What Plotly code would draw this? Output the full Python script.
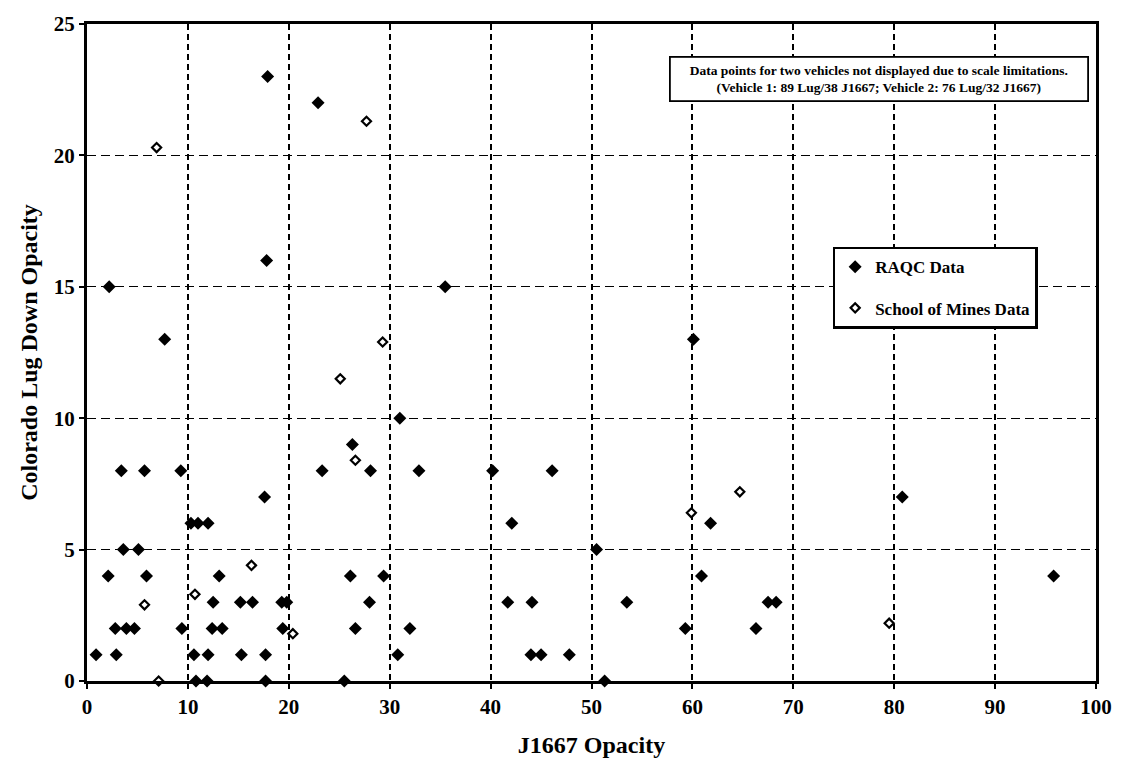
import plotly.graph_objects as go

# RAQC measurements: J1667 opacity (x) vs Colorado lug-down opacity (y)
raqc_x = [17.9, 22.9, 17.8, 2.2, 35.5, 7.7, 60.1, 31.0, 26.3,
          3.4, 5.7, 9.3, 23.3, 28.1, 32.9, 40.2, 46.1,
          17.6, 80.8,
          10.3, 11.0, 12.0, 42.1, 61.8,
          3.6, 5.1, 50.5,
          2.1, 5.9, 13.1, 26.1, 29.4, 60.9, 95.8,
          12.5, 15.2, 16.4, 19.3, 19.8, 28.0, 41.7, 44.1, 53.5, 67.5, 68.3,
          2.8, 3.9, 4.7, 9.4, 12.4, 13.4, 19.4, 26.6, 32.0, 59.3, 66.3,
          0.9, 2.9, 10.6, 12.0, 15.3, 17.7, 30.8, 44.0, 45.0, 47.8,
          10.8, 11.9, 17.7, 25.5, 51.3]
raqc_y = [23, 22, 16, 15, 15, 13, 13, 10, 9,
          8, 8, 8, 8, 8, 8, 8, 8,
          7, 7,
          6, 6, 6, 6, 6,
          5, 5, 5,
          4, 4, 4, 4, 4, 4, 4,
          3, 3, 3, 3, 3, 3, 3, 3, 3, 3, 3,
          2, 2, 2, 2, 2, 2, 2, 2, 2, 2, 2,
          1, 1, 1, 1, 1, 1, 1, 1, 1, 1,
          0, 0, 0, 0, 0]

# School of Mines measurements
mines_x = [6.9, 27.7, 29.3, 25.1, 26.6, 16.3, 10.7, 5.7, 20.4, 7.1, 59.9, 64.7, 79.5]
mines_y = [20.3, 21.3, 12.9, 11.5, 8.4, 4.4, 3.3, 2.9, 1.8, 0.0, 6.4, 7.2, 2.2]

x_ticks = [0, 10, 20, 30, 40, 50, 60, 70, 80, 90, 100]
y_ticks = [0, 5, 10, 15, 20, 25]

SERIF = "Liberation Serif"

fig = go.Figure()
fig.add_trace(go.Scatter(
    x=raqc_x, y=raqc_y, mode="markers", name="RAQC Data",
    legendgroup="raqc", cliponaxis=False,
    marker=dict(symbol="diamond", size=10, color="black",
                line=dict(width=0)),
))
fig.add_trace(go.Scatter(
    x=mines_x, y=mines_y, mode="markers", name="School of Mines Data",
    legendgroup="mines", cliponaxis=False,
    marker=dict(symbol="diamond", size=7, color="white",
                line=dict(width=2.2, color="black")),
))

axis_common = dict(
    showline=True, linewidth=3, linecolor="black", mirror=True,
    showgrid=True, gridcolor="black", zeroline=False,
    ticks="outside", ticklen=5, tickwidth=1.5, tickcolor="black",
    tickfont=dict(family=SERIF, size=21, color="black", weight="bold"),
)

fig.update_xaxes(
    range=[0, 100], tickvals=x_ticks, griddash="6px,4px", gridwidth=1.5,
    title=dict(text="J1667 Opacity", standoff=18,
               font=dict(family=SERIF, size=24, color="black", weight="bold")),
    **axis_common,
)
fig.update_yaxes(
    range=[0, 25], tickvals=y_ticks, griddash="9px,5px", gridwidth=1.3,
    title=dict(text="Colorado Lug Down Opacity", standoff=10,
               font=dict(family=SERIF, size=24, color="black", weight="bold")),
    **axis_common,
)

fig.add_annotation(
    xref="paper", yref="paper", x=0.785, y=0.917,
    xanchor="center", yanchor="middle", showarrow=False,
    text=("Data points for two vehicles not displayed due to scale limitations."
          "<br>(Vehicle 1: 89 Lug/38 J1667; Vehicle 2: 76 Lug/32 J1667)"),
    font=dict(family=SERIF, size=13.5, color="black", weight="bold"),
    width=410, height=36, borderpad=3,
    bordercolor="black", borderwidth=1.8, bgcolor="white",
)

fig.update_layout(
    width=1124, height=773,
    margin=dict(l=87, r=24, t=21, b=92),
    paper_bgcolor="white", plot_bgcolor="white",
    showlegend=True,
    legend=dict(
        x=0.739, y=0.661, xanchor="left", yanchor="top",
        bgcolor="white", bordercolor="black", borderwidth=2.5,
        font=dict(family=SERIF, size=17, color="black", weight="bold"),
        tracegroupgap=16, itemwidth=30,
    ),
)

fig.write_html("out.html")
